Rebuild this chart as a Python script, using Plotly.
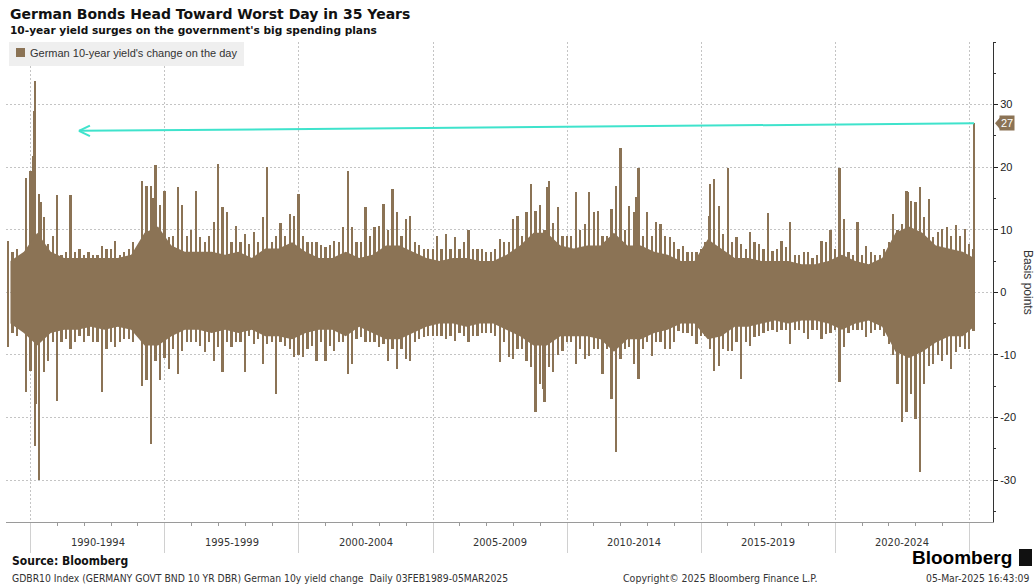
import pandas as pd
import plotly.graph_objects as go

# ---------------- DATA ----------------
# Largest daily rise / fall (bp) in each two-month window, Feb-1989 .. Mar-2025
# rows: one year each, windows centred on Mar, May, Jul, Sep, Nov, Jan(next year)
up_peak = [
    8.2, 6.5, 7.0, 6.0, 18.2, 19.4,      # 1989
    33.8, 15.7, 12.0, 7.7, 9.0, 15.6,    # 1990
    6.0, 6.5, 15.6, 6.5, 7.0, 6.0,       # 1991
    6.5, 6.0, 6.0, 7.4, 7.0, 7.0,        # 1992
    8.2, 6.0, 6.5, 7.0, 8.0, 7.0,        # 1993
    17.8, 17.0, 17.0, 20.3, 14.0, 16.2,  # 1994
    8.8, 9.0, 16.8, 14.0, 9.0, 10.0,     # 1995
    16.2, 8.8, 8.0, 9.0, 11.2, 20.5,     # 1996
    13.6, 12.8, 8.0, 10.6, 8.0, 9.3,     # 1997
    7.7, 9.6, 8.0, 12.0, 20.1, 8.0,      # 1998
    9.0, 11.0, 9.0, 12.5, 12.2, 15.7,    # 1999
    9.0, 8.0, 8.0, 8.0, 7.5, 7.2,        # 2000
    7.5, 8.2, 8.0, 10.4, 19.4, 10.4,     # 2001
    8.0, 8.0, 13.6, 9.0, 10.4, 10.6,     # 2002
    14.1, 10.0, 16.5, 12.8, 9.0, 11.7,   # 2003
    12.2, 8.0, 7.5, 7.0, 7.0, 7.0,       # 2004
    9.0, 7.0, 9.3, 7.0, 8.8, 7.0,        # 2005
    8.0, 10.0, 7.0, 7.0, 7.0, 6.5,       # 2006
    6.5, 7.0, 8.5, 8.0, 8.0, 11.7,       # 2007
    12.2, 9.0, 12.8, 17.3, 13.0, 14.0,   # 2008
    10.0, 17.8, 11.0, 13.6, 9.0, 9.0,    # 2009
    9.0, 16.0, 10.0, 10.9, 16.0, 12.8,   # 2010
    13.0, 9.0, 9.0, 13.3, 17.0, 23.0,    # 2011
    10.0, 13.8, 12.8, 19.8, 9.0, 12.8,   # 2012
    9.0, 11.2, 10.9, 9.0, 8.8, 8.0,      # 2013
    7.0, 7.4, 6.5, 6.5, 6.4, 7.0,        # 2014
    8.0, 17.3, 18.1, 13.8, 9.3, 19.8,    # 2015
    8.0, 8.8, 7.7, 7.0, 9.6, 8.0,        # 2016
    7.7, 7.0, 12.6, 6.6, 7.0, 8.2,       # 2017
    7.2, 11.2, 6.0, 6.0, 6.5, 6.5,       # 2018
    5.5, 6.0, 8.2, 8.0, 10.0, 7.0,       # 2019
    19.8, 11.7, 6.5, 6.0, 11.3, 6.0,     # 2020
    7.4, 6.5, 6.0, 6.0, 7.0, 8.0,        # 2021
    12.5, 10.0, 10.9, 16.2, 14.6, 14.4,  # 2022
    16.8, 12.0, 14.9, 8.8, 9.6, 10.1,    # 2023
    10.4, 9.0, 10.8, 9.0, 10.1, 7.7,     # 2024
    6.9,                                 # 2025 Feb
]
down_peak = [
    -8.8, -6.5, -7.0, -6.0, -16.0, -12.5,     # 1989
    -24.5, -30.0, -12.8, -11.0, -8.0, -17.3,  # 1990
    -8.0, -7.5, -9.0, -8.0, -7.0, -8.0,       # 1991
    -7.0, -8.0, -8.0, -16.0, -9.0, -8.0,      # 1992
    -8.8, -8.0, -7.5, -7.5, -8.0, -7.0,       # 1993
    -14.9, -14.0, -24.2, -11.0, -14.0, -10.5, # 1994
    -12.2, -9.0, -13.0, -9.3, -8.0, -8.0,     # 1995
    -8.0, -8.5, -9.6, -8.0, -10.9, -8.8,      # 1996
    -12.8, -8.0, -8.8, -8.0, -8.0, -12.8,     # 1997
    -7.0, -8.2, -7.5, -11.4, -8.2, -8.0,      # 1998
    -16.2, -8.0, -8.5, -9.0, -10.4, -10.0,    # 1999
    -10.4, -9.0, -8.5, -10.9, -8.0, -10.9,    # 2000
    -8.5, -9.3, -8.0, -8.0, -13.0, -11.4,     # 2001
    -7.5, -7.2, -8.0, -8.0, -8.0, -8.8,       # 2002
    -8.2, -10.9, -9.0, -12.2, -9.0, -10.6,    # 2003
    -10.9, -8.0, -7.4, -7.2, -7.0, -7.0,      # 2004
    -7.0, -7.0, -7.4, -7.0, -7.7, -6.5,       # 2005
    -7.0, -8.0, -7.0, -7.0, -6.5, -6.5,       # 2006
    -6.5, -7.0, -11.2, -8.0, -10.4, -10.6,    # 2007
    -9.0, -9.0, -10.9, -12.0, -19.1, -14.6,   # 2008
    -17.6, -12.0, -12.8, -10.0, -9.3, -8.0,   # 2009
    -8.0, -11.4, -9.0, -10.6, -10.1, -9.0,    # 2010
    -9.0, -13.0, -9.0, -17.0, -25.5, -10.6,   # 2011
    -9.0, -8.8, -11.4, -13.8, -9.0, -8.0,     # 2012
    -10.1, -8.0, -8.0, -9.0, -9.0, -8.0,      # 2013
    -6.1, -6.5, -6.5, -7.0, -8.2, -7.0,       # 2014
    -7.0, -9.0, -12.5, -11.7, -9.0, -9.3,     # 2015
    -9.3, -8.0, -13.8, -8.0, -8.5, -7.2,      # 2016
    -7.0, -6.5, -6.1, -6.0, -6.4, -6.0,       # 2017
    -6.0, -8.2, -6.0, -6.0, -6.5, -7.4,       # 2018
    -6.0, -6.0, -7.4, -6.6, -6.5, -6.0,       # 2019
    -14.4, -8.8, -6.5, -6.0, -6.0, -6.0,      # 2020
    -7.2, -6.5, -6.0, -6.0, -7.0, -8.2,       # 2021
    -10.0, -14.6, -20.7, -19.1, -16.2, -20.2, # 2022
    -28.7, -14.6, -11.7, -11.4, -10.0, -10.9, # 2023
    -10.0, -12.2, -9.5, -8.8, -9.0, -9.0,     # 2024
    -6.1,                                     # 2025 Feb
]

# Other notable single-day moves (bp)
extra_dates = ["1990-02-06", "1990-02-20", "1990-03-14", "1990-05-22",
               "1994-07-20", "1994-09-12", "2003-07-12", "2009-02-15",
               "2009-04-12", "2011-09-12", "2012-08-01", "2015-04-28",
               "2022-09-20"]
extra_values = [21.8, 29.0, -17.8, 14.4,
                15.0, 20.0, 14.9, -15.4,
                16.8, -15.2, 15.2, 12.2,
                16.0]

# Dense everyday band (bp), half-years H1/H2 from 1989 to 2025 H1
core_hi = [5.0, 6.5, 9.5, 6.5, 5.5, 5.5, 5.5, 5.5, 5.5, 6.0, 9.5, 10.5,
           7.5, 6.5, 6.5, 6.5, 6.0, 6.5, 5.5, 7.0, 7.0, 8.0, 6.5, 5.5,
           5.5, 6.5, 5.5, 6.0, 7.5, 7.5, 6.5, 5.5, 5.0, 5.5, 5.5, 5.0,
           5.0, 6.0, 7.5, 9.5, 9.5, 7.5, 7.0, 7.5, 7.5, 9.5, 7.5, 7.5,
           6.5, 6.0, 5.0, 5.0, 8.5, 7.0, 5.5, 5.5, 5.0, 5.0, 5.0, 4.5,
           4.5, 5.0, 6.0, 5.0, 4.5, 5.5, 9.5, 10.5, 9.5, 7.5, 7.0, 6.5,
           5.5]
core_lo = [-5.0, -6.5, -8.5, -6.5, -6.0, -6.0, -5.5, -6.0, -5.5, -6.0, -8.5, -8.5,
           -7.0, -6.0, -6.0, -6.5, -6.0, -6.5, -6.0, -7.0, -7.0, -7.5, -6.5, -6.0,
           -6.0, -7.0, -5.5, -6.5, -7.5, -7.5, -6.5, -5.5, -5.0, -5.0, -5.5, -5.0,
           -5.0, -6.0, -7.0, -8.5, -8.5, -7.0, -7.0, -7.0, -7.5, -9.5, -7.5, -7.5,
           -6.5, -6.0, -5.0, -5.0, -7.5, -7.0, -5.5, -5.5, -5.0, -4.5, -5.0, -4.5,
           -4.5, -5.0, -6.0, -5.0, -4.5, -5.5, -9.5, -10.5, -9.5, -8.0, -7.0, -7.0,
           -5.5]

last_day = "2025-03-05"
last_value = 27

period_labels = ["1990-1994", "1995-1999", "2000-2004", "2005-2009",
                 "2010-2014", "2015-2019", "2020-2024"]
y_ticks = [-30, -20, -10, 0, 10, 20, 30]

# ---------------- STYLE ----------------
BROWN = "#8b7355"
CYAN = "#3fe3cc"
GRID = "#c4c4c4"
NARROW = "Liberation Sans Narrow, DejaVu Sans Condensed, Liberation Sans, sans-serif"
REG = "Liberation Sans, Arial, sans-serif"
TITLEF = "DejaVu Sans, Verdana, sans-serif"

W, H = 1036, 587
L, R, T, B = 6, 43, 42, 65
PW, PH = W - L - R, H - T - B


def px(x):
    return (x - L) / PW


def py(y):
    return (H - B - y) / PH


data_end = pd.Timestamp("2025-03-04")
centers = pd.date_range("1989-03-01", periods=len(up_peak), freq="2MS")
centers = [min(c, data_end) for c in centers]
core_x = pd.date_range("1989-04-01", periods=len(core_hi), freq="6MS")
core_x = [min(c, data_end) for c in core_x]

bar_w = 24 * 86400000

fig = go.Figure()
fig.add_trace(go.Scatter(x=core_x, y=core_hi, mode="lines",
                         line=dict(width=0, color=BROWN), hoverinfo="skip"))
fig.add_trace(go.Scatter(x=core_x, y=core_lo, mode="lines", fill="tonexty",
                         fillcolor=BROWN, line=dict(width=0, color=BROWN),
                         hoverinfo="skip"))
for xs, ys in [(centers, up_peak), (centers, down_peak),
               (extra_dates, extra_values), ([last_day], [last_value])]:
    fig.add_trace(go.Bar(x=xs, y=ys, width=bar_w,
                         marker=dict(color=BROWN, line=dict(width=0))))

five_years = [pd.Timestamp(f"{y}-01-01") for y in range(1990, 2026, 5)]

fig.update_layout(
    width=W, height=H, margin=dict(l=L, r=R, t=T, b=B),
    plot_bgcolor="white", paper_bgcolor="white",
    barmode="overlay", showlegend=False, bargap=0,
    xaxis=dict(
        type="date", range=["1989-01-30", "2025-11-18"],
        tickvals=five_years, showticklabels=False,
        ticks="outside", ticklen=30, tickcolor="#d0d0d0", tickwidth=1,
        showgrid=True, gridcolor=GRID, griddash="2px,2px", gridwidth=1,
        showline=True, linecolor="#9a9a9a", linewidth=1, zeroline=False,
        minor=dict(dtick="M12", tick0="1990-01-01", ticks="outside",
                   ticklen=3, tickcolor="#9a9a9a", showgrid=False),
    ),
    yaxis=dict(
        side="right", range=[-36.7, 40],
        tickvals=y_ticks, ticktext=[str(v) for v in y_ticks],
        ticks="outside", ticklen=4, tickcolor="#222", tickwidth=1,
        tickfont=dict(family=REG, size=11, color="#222"),
        showgrid=True, gridcolor=GRID, griddash="2px,2px", gridwidth=1,
        showline=True, linecolor="#333", linewidth=1, zeroline=False,
        minor=dict(dtick=5, tick0=0, ticks="outside", ticklen=2,
                   tickcolor="#333", showgrid=False),
    ),
)

# arrow pointing back to 1990
tip_x = pd.Timestamp("1991-10-20")
tip_y = 25.8
arm_x = tip_x + pd.Timedelta(days=150)
fig.add_shape(type="line", xref="x", yref="y", x0=last_day, y0=last_value,
              x1=tip_x, y1=tip_y, line=dict(color=CYAN, width=2))
for dy in (0.85, -0.85):
    fig.add_shape(type="line", xref="x", yref="y", x0=tip_x, y0=tip_y,
                  x1=arm_x, y1=tip_y + dy, line=dict(color=CYAN, width=2))

# legend box
fig.add_shape(type="rect", xref="paper", yref="paper", x0=px(9), x1=px(244),
              y0=py(66), y1=py(42), fillcolor="#efefef", line=dict(width=0),
              layer="above")
fig.add_shape(type="rect", xref="paper", yref="paper", x0=px(16), x1=px(25),
              y0=py(57), y1=py(48), fillcolor=BROWN, line=dict(width=0),
              layer="above")
ann = []
ann.append(dict(text="German 10-year yield's change on the day", x=px(28),
                y=py(53), xanchor="left", yanchor="middle",
                font=dict(family=REG, size=11, color="#333")))

# titles
ann.append(dict(text="<b>German Bonds Head Toward Worst Day in 35 Years</b>",
                x=px(8), y=py(14), xanchor="left", yanchor="middle",
                font=dict(family=TITLEF, size=14, color="#111")))
ann.append(dict(text="<b>10-year yield surges on the government's big spending plans</b>",
                x=px(8), y=py(30), xanchor="left", yanchor="middle",
                font=dict(family=TITLEF, size=10.6, color="#111")))

# period labels
for lab in period_labels:
    y0 = int(lab[:4])
    a = pd.Timestamp(f"{y0}-01-01")
    b = pd.Timestamp(f"{y0 + 5}-01-01")
    ann.append(dict(text=lab, x=a + (b - a) / 2, xref="x", y=py(542),
                    xanchor="center", yanchor="middle",
                    font=dict(family=NARROW, size=11, color="#333")))

# y axis title
ann.append(dict(text="Basis points", x=px(1028), y=py(282), textangle=90,
                xanchor="center", yanchor="middle",
                font=dict(family=REG, size=12, color="#333")))

# value tag
fig.add_shape(type="path", xref="paper", yref="y",
              path=f"M {px(995)},{last_value} L {px(1000)},{last_value + 0.95} "
                   f"L {px(1000)},{last_value - 0.95} Z",
              fillcolor=BROWN, line=dict(width=0))
ann.append(dict(text="27", x=px(999), y=last_value, yref="y", xanchor="left",
                yanchor="middle", bgcolor=BROWN, borderpad=1,
                font=dict(family=REG, size=11, color="white")))

# footer
ann.append(dict(text="<b>Source: Bloomberg</b>", x=px(10), y=py(561),
                xanchor="left", yanchor="middle",
                font=dict(family=NARROW, size=12, color="#111")))
ann.append(dict(text="GDBR10 Index (GERMANY GOVT BND 10 YR DBR) German 10y yield change\u00a0 Daily 03FEB1989-05MAR2025",
                x=px(10), y=py(578), xanchor="left", yanchor="middle",
                font=dict(family=NARROW, size=10.3, color="#333")))
ann.append(dict(text="Copyright\u00a9 2025 Bloomberg Finance L.P.", x=px(720),
                y=py(578), xanchor="center", yanchor="middle",
                font=dict(family=NARROW, size=10.5, color="#333")))
ann.append(dict(text="05-Mar-2025 16:43:09", x=px(1032), y=py(578),
                xanchor="right", yanchor="middle",
                font=dict(family=NARROW, size=10.3, color="#333")))
ann.append(dict(text="<b>Bloomberg</b>", x=px(1014), y=py(557),
                xanchor="right", yanchor="middle",
                font=dict(family=REG, size=19, color="#000")))
fig.add_shape(type="rect", xref="paper", yref="paper", x0=px(1019), x1=px(1032),
              y0=py(566), y1=py(549), fillcolor="#111", line=dict(width=0))

for a in ann:
    a.setdefault("xref", "paper")
    a.setdefault("yref", "paper")
    a["showarrow"] = False
fig.update_layout(annotations=ann)

fig.write_html("out.html", config={"displayModeBar": False},
               post_script="document.body.style.margin='0';"
                           "document.body.style.overflow='hidden';")
